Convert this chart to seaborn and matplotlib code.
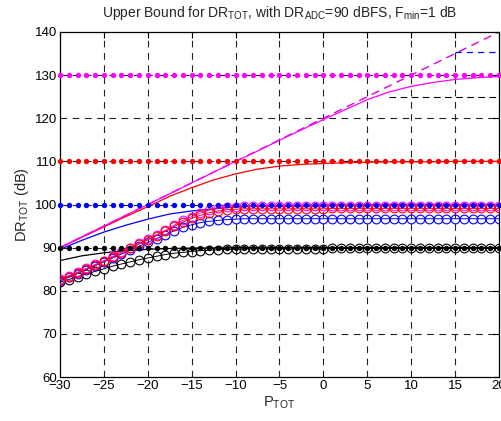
import numpy as np
import pandas as pd
import matplotlib
matplotlib.use("Agg")
import matplotlib.pyplot as plt
import seaborn as sns

# ---------------- data ----------------
p_fine = list(range(-30, 21))                     # marker positions (1 dB step)
p_coarse = [-30, -27.5, -25, -22.5, -20, -17.5, -15, -12.5, -10, -7.5, -5,
            -2.5, 0, 2.5, 5, 7.5, 10, 12.5, 15, 17.5, 20]

# solid curves
solid_magenta = [90.0, 92.5, 95.0, 97.5, 100.0, 102.5, 105.0, 107.5, 110.0, 112.4, 114.9,
                 117.3, 119.7, 122.0, 124.3, 126.1, 127.4, 128.3, 129.0, 129.4, 129.7]
solid_red = [90.0, 92.4, 94.8, 97.2, 99.5, 101.9, 103.9, 105.7, 107.1, 108.2, 108.9,
             109.3, 109.5, 109.7, 109.8, 109.9, 109.9, 109.9, 110.0, 110.0, 110.0]
solid_blue = [89.6, 91.7, 93.6, 95.2, 96.6, 97.8, 98.5, 99.0, 99.4, 99.6, 99.8,
              99.8, 99.9, 99.9, 99.9, 100.0, 100.0, 100.0, 100.0, 100.0, 100.0]
solid_black = [87.0, 88.1, 88.8, 89.3, 89.6, 89.8, 89.9, 89.9, 90.0, 90.0, 90.0,
               90.0, 90.0, 90.0, 90.0, 90.0, 90.0, 90.0, 90.0, 90.0, 90.0]

# circle series (simulated), one value per 1 dB
circ_black = [82.0, 82.6, 83.3, 83.9, 84.5, 85.1, 85.7, 86.2, 86.7, 87.2, 87.6,
              88.0, 88.4, 88.7, 88.9, 89.1, 89.3, 89.4, 89.5, 89.6, 89.6,
              89.7, 89.7, 89.7, 89.7, 89.7, 89.7, 89.7, 89.7, 89.7, 89.7,
              89.8, 89.8, 89.8, 89.8, 89.8, 89.8, 89.8, 89.8, 89.8, 89.8,
              89.8, 89.8, 89.8, 89.8, 89.8, 89.8, 89.8, 89.8, 89.8, 89.8]
circ_blue = [82.3, 83.1, 84.0, 84.9, 85.8, 86.7, 87.6, 88.5, 89.4, 90.3, 91.2,
             92.1, 93.0, 93.9, 94.7, 95.3, 95.8, 96.1, 96.3, 96.5, 96.6,
             96.7, 96.7, 96.7, 96.7, 96.7, 96.7, 96.7, 96.7, 96.7, 96.7,
             96.7, 96.7, 96.7, 96.7, 96.7, 96.7, 96.7, 96.7, 96.7, 96.7,
             96.7, 96.7, 96.7, 96.7, 96.7, 96.7, 96.7, 96.7, 96.7, 96.7]
circ_red = [82.6, 83.3, 84.1, 85.0, 85.9, 86.8, 87.8, 88.8, 89.8, 90.8, 91.8,
            92.8, 93.8, 94.9, 95.9, 96.8, 97.5, 98.1, 98.5, 98.8, 98.9,
            99.0, 99.0, 99.0, 99.0, 99.0, 99.0, 99.0, 99.0, 99.0, 99.0,
            99.1, 99.1, 99.1, 99.1, 99.1, 99.1, 99.1, 99.1, 99.1, 99.1,
            99.1, 99.1, 99.1, 99.1, 99.1, 99.1, 99.1, 99.1, 99.1, 99.1]
circ_magenta = [82.8, 83.5, 84.3, 85.2, 86.1, 87.0, 88.0, 89.0, 90.0, 91.0, 92.0,
                93.0, 94.0, 95.2, 96.3, 97.2, 98.0, 98.7, 99.2, 99.4, 99.5,
                99.6, 99.6, 99.6, 99.6, 99.6, 99.6, 99.6, 99.6, 99.6, 99.6,
                99.7, 99.7, 99.7, 99.7, 99.7, 99.7, 99.7, 99.7, 99.7, 99.7,
                99.7, 99.7, 99.7, 99.7, 99.7, 99.7, 99.7, 99.7, 99.7, 99.7]

# constant bounds (dots)
bound_levels = {"k": 90, "b": 100, "r": 110, "m": 130}

# dashed asymptotes
dash_magenta_x = [-30, 20]
dash_magenta_y = [90, 140]
dash_black_x = [7.5, 20]
dash_black_y = [125.0, 125.0]
dash_blue_x = [15, 20]
dash_blue_y = [135.4, 135.4]

colors = {"k": "#000000", "b": "#0000ff", "r": "#ff0000", "m": "#ff00ff"}

# ---------------- plot ----------------
sns.set_style("white")
plt.rcParams["font.family"] = ["Liberation Sans", "DejaVu Sans"]
plt.rcParams["mathtext.fontset"] = "custom"
plt.rcParams["mathtext.rm"] = "Liberation Sans"
plt.rcParams["mathtext.it"] = "Liberation Sans"

fig = plt.figure(figsize=(5.02, 4.21), dpi=100)
ax = fig.add_axes([0.1195, 0.1045, 0.8745, 0.8195])

# grid
for gx in range(-25, 20, 5):
    ax.axvline(gx, color="#222222", lw=0.8, dashes=(6, 5), zorder=0)
for gy in range(70, 140, 10):
    ax.axhline(gy, color="#222222", lw=0.8, dashes=(6, 5), zorder=0)

# dashed asymptotes (underneath the solid curves)
sns.lineplot(x=dash_magenta_x, y=dash_magenta_y, color="#e000e0", lw=1.0, ax=ax,
             zorder=2).lines[-1].set_dashes((6, 4))
sns.lineplot(x=dash_black_x, y=dash_black_y, color=colors["k"], lw=0.8, ax=ax,
             zorder=2).lines[-1].set_dashes((6, 4))
sns.lineplot(x=dash_blue_x, y=dash_blue_y, color=colors["b"], lw=0.9, ax=ax,
             zorder=2).lines[-1].set_dashes((5, 4))

# solid curves
for key, vals in [("k", solid_black), ("b", solid_blue), ("r", solid_red), ("m", solid_magenta)]:
    sns.lineplot(x=p_coarse, y=vals, color=colors[key], lw=0.9, ax=ax, zorder=3)

# circle series
for key, vals in [("k", circ_black), ("b", circ_blue), ("m", circ_magenta), ("r", circ_red)]:
    sns.lineplot(x=p_fine, y=vals, color=colors[key], lw=0.7, marker="o",
                 markersize=6.3, markerfacecolor="none", markeredgecolor=colors[key],
                 markeredgewidth=0.8, ax=ax, zorder=4)

# dotted bounds
for key, lev in bound_levels.items():
    df = pd.DataFrame({"p": p_fine, "v": np.full(len(p_fine), lev, dtype=float)})
    sns.scatterplot(data=df, x="p", y="v", color=colors[key], s=15, linewidth=0,
                    ax=ax, zorder=5, clip_on=False)

ax.set_xlim(-30, 20)
ax.set_ylim(60, 140)
ax.set_xticks(range(-30, 21, 5))
ax.set_yticks(range(60, 141, 10))
ax.tick_params(direction="in", length=4, width=0.8, labelsize=9.5, pad=2,
               top=True, right=True, colors="black")
for sp in ax.spines.values():
    sp.set_color("black")
    sp.set_linewidth(0.9)

ax.set_xlabel(r"P$_{\mathrm{TOT}}$", fontsize=10.5, labelpad=2)
ax.set_ylabel(r"DR$_{\mathrm{TOT}}$ (dB)", fontsize=10.5, labelpad=3)
ax.set_title(r"Upper Bound for DR$_{\mathrm{TOT}}$, with DR$_{\mathrm{ADC}}$=90 dBFS, F$_{\mathrm{min}}$=1 dB",
             fontsize=10, pad=11)

fig.savefig("out.png", dpi=100)
